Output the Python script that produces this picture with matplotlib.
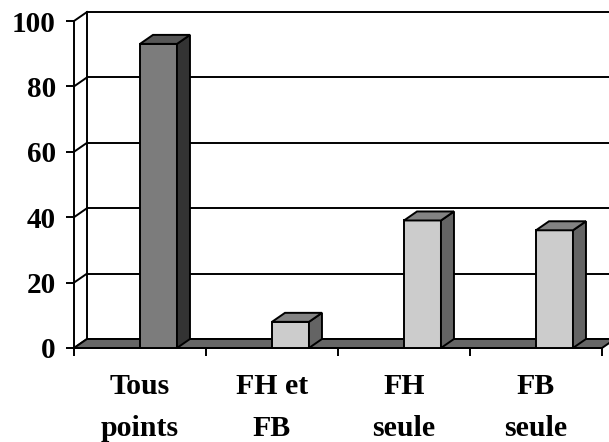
import numpy as np
import matplotlib
matplotlib.use("Agg")
import matplotlib.pyplot as plt
from matplotlib.patches import Polygon

plt.rcParams['font.family'] = ['Liberation Serif', 'DejaVu Serif']
plt.rcParams['font.weight'] = 'bold'

categories = ["Tous\npoints", "FH et\nFB", "FH\nseule", "FB\nseule"]
values = [93, 8, 39, 36]
front_colors = ["#7c7c7c", "#cccccc", "#cccccc", "#cccccc"]
side_colors = ["#333333", "#646464", "#646464", "#646464"]
top_colors = ["#565656", "#838383", "#838383", "#838383"]
yticks = [0, 20, 40, 60, 80, 100]

W, H = 609, 442
fig = plt.figure(figsize=(W / 100, H / 100), dpi=100)
ax = fig.add_axes([74 / W, (H - 348) / H, 528 / W, 327 / H])
ax.set_xlim(0, 4)
ax.set_ylim(0, 100)
ax.patch.set_visible(False)

# depth of the 3d box, in data units
ddx = 13 / 132
ddy = 9 / 3.27
lw = 1.4

# back wall grid + left side wall
for v in yticks:
    ax.plot([ddx, 4 + ddx], [v + ddy, v + ddy], color="black", lw=lw, clip_on=False, zorder=1)
    ax.plot([0, ddx], [v, v + ddy], color="black", lw=lw, clip_on=False, zorder=1)
ax.plot([ddx, ddx], [ddy, 100 + ddy], color="black", lw=lw, clip_on=False, zorder=1)

# floor
floor = Polygon([(0, 0), (4, 0), (4 + ddx, ddy), (ddx, ddy)], closed=True,
                facecolor="#666666", edgecolor="black", lw=lw, clip_on=False, zorder=2)
ax.add_patch(floor)

# bars: front faces, then side and top
bw = 0.28
x0 = np.arange(len(values)) + 0.5
ax.bar(x0, values, width=bw, align="edge", color=front_colors, edgecolor="black",
       linewidth=lw, zorder=3, clip_on=False)
for xs, v, sc, tc in zip(x0, values, side_colors, top_colors):
    x1 = xs + bw
    side = Polygon([(x1, 0), (x1 + ddx, ddy), (x1 + ddx, v + ddy), (x1, v)], closed=True,
                   facecolor=sc, edgecolor="black", lw=lw, clip_on=False, zorder=3)
    top = Polygon([(xs, v), (x1, v), (x1 + ddx, v + ddy), (xs + ddx, v + ddy)], closed=True,
                  facecolor=tc, edgecolor="black", lw=lw, clip_on=False, zorder=3)
    ax.add_patch(side)
    ax.add_patch(top)

for s in ["top", "right"]:
    ax.spines[s].set_visible(False)
ax.spines["left"].set_linewidth(lw)
ax.spines["bottom"].set_linewidth(lw)
ax.spines["left"].set_zorder(4)

ax.set_yticks(yticks)
ax.set_yticklabels([str(t) for t in yticks], fontsize=21, fontweight="bold")
ax.tick_params(axis="y", direction="out", length=6, width=lw, pad=7)

ax.set_xticks([0, 1, 2, 3, 4])
ax.set_xticklabels([])
ax.set_xticks(x0, minor=True)
ax.set_xticklabels(categories, minor=True, fontsize=21.5, fontweight="bold", linespacing=1.7)
ax.tick_params(axis="x", which="major", direction="out", length=6, width=lw)
ax.tick_params(axis="x", which="minor", length=0, pad=18)

fig.savefig("out.png", dpi=100)
